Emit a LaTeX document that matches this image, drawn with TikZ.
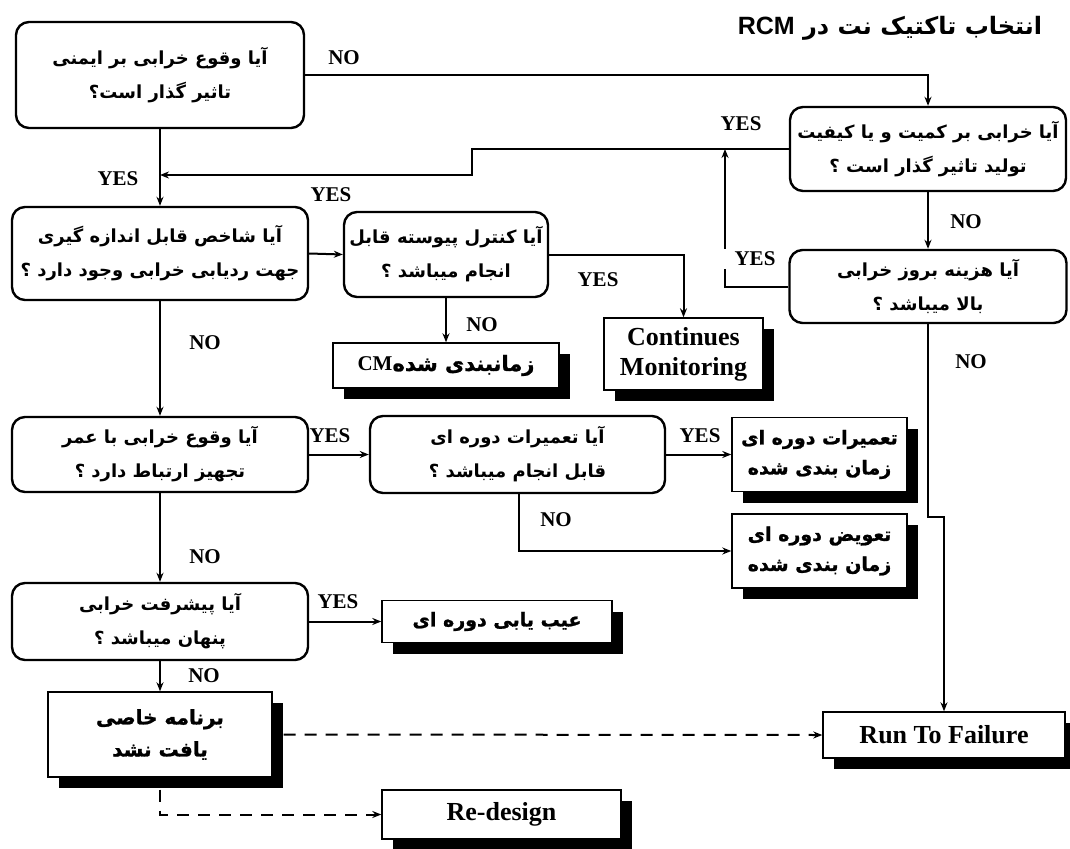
\documentclass[tikz,border=0pt]{standalone}
\usepackage{fontspec}
\usetikzlibrary{arrows.meta,shadows}
\setmainfont{Liberation Serif}
\newfontfamily\fafont[Script=Arabic]{DejaVu Sans}
\newfontfamily\faheavy[Script=Arabic,FakeBold=1.2]{DejaVu Sans Bold}
\newfontfamily\latinsans{Liberation Sans}
\TeXXeTstate=1
\newcommand{\fa}[1]{{\fafont\beginR #1\endR}}
\newcommand{\fah}[1]{{\faheavy\beginR #1\endR}}
\tikzstyle{question}=[draw, line width=2.4pt, rounded corners=13pt, align=center, inner sep=0pt, font=\bfseries\fontsize{18}{34}\selectfont]
\tikzstyle{result}=[draw, line width=1.4pt, fill=white, align=center, inner sep=0pt, drop shadow={shadow xshift=11pt, shadow yshift=-11pt, fill=black, opacity=1}, font=\bfseries\fontsize{19}{30}\selectfont]
\tikzstyle{bigresult}=[result, font=\bfseries\fontsize{26}{30}\selectfont]
\tikzstyle{answer}=[font=\bfseries\fontsize{21}{22}\selectfont]
\tikzstyle{arr}=[line width=2pt, -{Stealth[length=9pt,width=7pt]}]
\tikzstyle{dasharr}=[arr, dash pattern=on 12pt off 9pt]

\begin{document}
\begin{tikzpicture}[x=1pt,y=-1pt]
	\useasboundingbox (0,0) rectangle (1070,848);
	\node[font=\bfseries\fontsize{24}{28}\selectfont] (title) at (890,28) {\fa{انتخاب تاکتیک نت در \beginL{\latinsans\fontsize{25}{28}\selectfont RCM}\endL}};
	\node[question, minimum width=288pt, minimum height=106pt] (safety) at (160,75) {\fa{آیا وقوع خرابی بر ایمنی}\\\fa{تاثیر گذار است؟}};
	\node[question, minimum width=276pt, minimum height=84pt] (quality) at (928,149) {\fa{آیا خرابی بر کمیت و یا کیفیت}\\\fa{تولید تاثیر گذار است ؟}};
	\node[question, minimum width=296pt, minimum height=93pt] (indicator) at (160,253.5) {\fa{آیا شاخص قابل اندازه گیری}\\\fa{جهت ردیابی خرابی وجود دارد ؟}};
	\node[question, minimum width=204pt, minimum height=85pt] (online) at (446,254.5) {\fa{آیا کنترل پیوسته قابل}\\\fa{انجام میباشد ؟}};
	\node[result, minimum width=226pt, minimum height=45pt, font=\bfseries\fontsize{21}{30}\selectfont] (cm) at (446,365.5) {\fah{زمانبندی شده\beginL{\rmfamily CM}\endL}};
	\node[bigresult, minimum width=159pt, minimum height=72pt] (monitor) at (683.5,354) {Continues\\Monitoring};
	\node[question, minimum width=277pt, minimum height=73pt] (cost) at (928,286.5) {\fa{آیا هزینه بروز خرابی}\\\fa{بالا میباشد ؟}};
	\node[question, minimum width=296pt, minimum height=75pt] (age) at (160,454.5) {\fa{آیا وقوع خرابی با عمر}\\\fa{تجهیز ارتباط دارد ؟}};
	\node[question, minimum width=295pt, minimum height=77pt] (periodic) at (517.5,454.5) {\fa{آیا تعمیرات دوره ای}\\\fa{قابل انجام میباشد ؟}};
	\node[result, minimum width=175pt, minimum height=74pt] (restore) at (819.5,454.5) {\fah{تعمیرات دوره ای}\\\fah{زمان بندی شده}};
	\node[result, minimum width=175pt, minimum height=74pt] (discard) at (819.5,551) {\fah{تعویض دوره ای}\\\fah{زمان بندی شده}};
	\node[question, minimum width=296pt, minimum height=77pt] (hidden) at (160,621.5) {\fa{آیا پیشرفت خرابی}\\\fa{پنهان میباشد ؟}};
	\node[result, minimum width=230pt, minimum height=42pt] (findfail) at (497,621.5) {\fah{عیب یابی دوره ای}};
	\node[result, minimum width=224pt, minimum height=85pt, font=\bfseries\fontsize{20}{32}\selectfont] (none) at (160,734.5) {\fah{برنامه خاصی}\\\fah{یافت نشد}};
	\node[bigresult, minimum width=242pt, minimum height=46pt] (rtf) at (944,735) {Run To Failure};
	\node[bigresult, minimum width=239pt, minimum height=49pt] (redesign) at (501.5,814.5) {Re-design};
	\coordinate (merge) at (160,175);
	\coordinate (costup) at (725,149);
	\draw[arr] (safety.east) -| (quality.north);
	\draw[arr] (safety.south) -- (indicator.north);
	\draw[arr] (quality.west) -- ++(-317,0) |- (merge);
	\draw[arr] (quality.south) -- (cost.north);
	\draw[arr] (cost.west) -| (costup);
	\draw[arr] (cost.south) -- ++(0,193) -| (rtf.north);
	\draw[arr] (indicator.east) -- (online.west);
	\draw[arr] (online.east) -| (monitor.north);
	\draw[arr] (online.south) -- (cm.north);
	\draw[arr] (indicator.south) -- (age.north);
	\draw[arr] (age.east) -- (periodic.west);
	\draw[arr] (periodic.east) -- (restore.west);
	\draw[arr] ([xshift=1.5pt]periodic.south) |- (discard.west);
	\draw[arr] (age.south) -- (hidden.north);
	\draw[arr] (hidden.east) -- (findfail.west);
	\draw[arr] (hidden.south) -- (none.north);
	\draw[dasharr] ([xshift=11pt]none.east) -- (rtf.west);
	\draw[dasharr] ([yshift=-12pt]none.south) |- (redesign.west);
	\node[answer] at (344,58) {NO};
	\node[answer] at (118,179) {YES};
	\node[answer] at (331,195) {YES};
	\node[answer] at (741,124) {YES};
	\node[answer, fill=white, minimum width=62pt] at (755,259) {YES};
	\node[answer] at (966,222) {NO};
	\node[answer] at (971,362) {NO};
	\node[answer] at (598,280) {YES};
	\node[answer] at (482,325) {NO};
	\node[answer] at (205,343) {NO};
	\node[answer] at (330,436) {YES};
	\node[answer] at (700,436) {YES};
	\node[answer] at (556,520) {NO};
	\node[answer] at (205,557) {NO};
	\node[answer] at (338,602) {YES};
	\node[answer] at (204,676) {NO};
\end{tikzpicture}
\end{document}
